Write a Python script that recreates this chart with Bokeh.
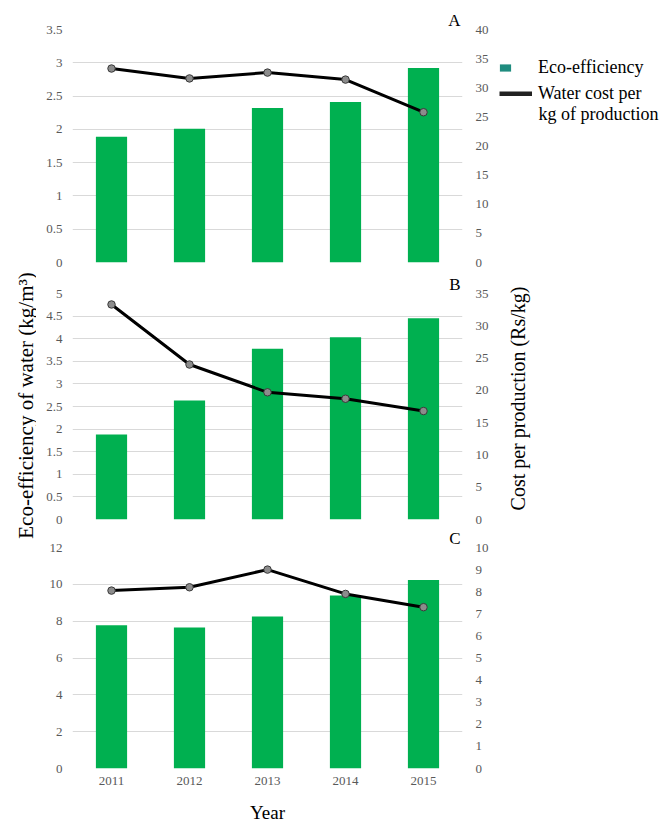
from bokeh.plotting import figure
from bokeh.models import (Range1d, LinearAxis, FixedTicker, NumeralTickFormatter,
                          Label, Legend, LegendItem, ColumnDataSource)
from bokeh.layouts import row, column
from bokeh.embed import file_html
from bokeh.resources import INLINE

# ---- data -------------------------------------------------------------
years = ["2011", "2012", "2013", "2014", "2015"]

# Panel A
eco_a = [1.89, 2.01, 2.32, 2.41, 2.92]
cost_a = [33.3, 31.6, 32.6, 31.4, 25.8]
ticks_a_left = [0, 0.5, 1, 1.5, 2, 2.5, 3, 3.5]
ticks_a_right = [0, 5, 10, 15, 20, 25, 30, 35, 40]

# Panel B
eco_b = [1.88, 2.63, 3.78, 4.03, 4.45]
cost_b = [33.3, 24.0, 19.7, 18.7, 16.8]
ticks_b_left = [0, 0.5, 1, 1.5, 2, 2.5, 3, 3.5, 4, 4.5, 5]
ticks_b_right = [0, 5, 10, 15, 20, 25, 30, 35]

# Panel C
eco_c = [7.78, 7.66, 8.26, 9.40, 10.23]
cost_c = [8.05, 8.2, 9.0, 7.9, 7.3]
ticks_c_left = [0, 2, 4, 6, 8, 10, 12]
ticks_c_right = [0, 1, 2, 3, 4, 5, 6, 7, 8, 9, 10]

# ---- styling ----------------------------------------------------------
SERIF = "Liberation Serif"
BAR_GREEN = "#00B050"
SWATCH_TEAL = "#1F8C7F"
TICK_GREY = "#595959"
GRID_GREY = "#D9D9D9"
W_TOTAL, H_TOTAL = 659, 825
W_LEFT, W_RIGHT = 36, 164
W_PANEL = W_TOTAL - W_LEFT - W_RIGHT
NAN = float("nan")


def style_axis(ax, standoff):
    ax.axis_line_color = None
    ax.major_tick_line_color = None
    ax.minor_tick_line_color = None
    ax.major_tick_out = 0
    ax.minor_tick_out = 0
    ax.major_label_standoff = standoff
    ax.major_label_text_font = SERIF
    ax.major_label_text_font_size = "13px"
    ax.major_label_text_color = TICK_GREY


def make_panel(eco, cost, lticks, rticks, letter, height, top, bottom, show_years):
    p = figure(x_range=years, y_range=Range1d(lticks[0], lticks[-1]),
               width=W_PANEL, height=height,
               min_border_left=36, min_border_right=33,
               min_border_top=top, min_border_bottom=bottom,
               toolbar_location=None, output_backend="svg")
    p.extra_y_ranges = {"cost": Range1d(rticks[0], rticks[-1])}
    p.outline_line_color = None
    p.background_fill_color = "white"
    p.border_fill_color = "white"

    # panel letter, right-aligned just above the plotting area
    p.title.text = letter
    p.title.align = "right"
    p.title.text_font = SERIF
    p.title.text_font_size = "17px"
    p.title.text_font_style = "normal"
    p.title.text_color = "black"
    p.title.standoff = 0
    p.title.offset = 2

    src = ColumnDataSource(dict(year=years, eco=eco, cost=cost))
    p.vbar(x="year", top="eco", width=0.4, fill_color=BAR_GREEN,
           line_color=None, source=src)
    p.line(x="year", y="cost", y_range_name="cost", line_color="black",
           line_width=3, line_join="round", source=src)
    p.scatter(x="year", y="cost", y_range_name="cost", size=7.5,
              fill_color="#8C8C8C", line_color="#3A3A3A", line_width=1, source=src)

    # left (eco-efficiency) axis and its gridlines
    left = p.yaxis[0]
    left.ticker = FixedTicker(ticks=lticks)
    left.formatter = NumeralTickFormatter(format="0.[0]")
    style_axis(left, 10)
    p.ygrid.ticker = FixedTicker(ticks=lticks)
    p.ygrid.grid_line_color = GRID_GREY
    p.ygrid.grid_line_width = 1
    p.xgrid.visible = False

    # right (cost) axis
    right = LinearAxis(y_range_name="cost", ticker=FixedTicker(ticks=rticks),
                       formatter=NumeralTickFormatter(format="0.[0]"))
    style_axis(right, 13)
    p.add_layout(right, "right")

    xa = p.xaxis[0]
    if show_years:
        style_axis(xa, 8)
        xa.axis_label = "Year"
        xa.axis_label_text_font = SERIF
        xa.axis_label_text_font_size = "19px"
        xa.axis_label_text_font_style = "normal"
        xa.axis_label_text_color = "black"
        xa.axis_label_standoff = 14
    else:
        xa.visible = False
    return p


pa = make_panel(eco_a, cost_a, ticks_a_left, ticks_a_right, "A", 270, 29, 8, False)
pb = make_panel(eco_b, cost_b, ticks_b_left, ticks_b_right, "B", 256, 23, 7, False)
pc = make_panel(eco_c, cost_c, ticks_c_left, ticks_c_right, "C", 299, 19, 55, True)

# ---- left strip: shared eco-efficiency title --------------------------
lp = figure(width=W_LEFT, height=H_TOTAL, x_range=Range1d(0, W_LEFT),
            y_range=Range1d(H_TOTAL, 0), min_border=0,
            x_axis_location=None, y_axis_location=None,
            toolbar_location=None, output_backend="svg")
lp.grid.visible = False
lp.outline_line_color = None
lp.add_layout(Label(x=25, y=405, text="Eco-efficiency of water (kg/m³)",
                    angle=90, angle_units="deg", text_align="center",
                    text_baseline="middle", text_font=SERIF,
                    text_font_size="21px", text_color="black"))

# ---- right strip: cost title and legend -------------------------------
rp = figure(width=W_RIGHT, height=H_TOTAL, x_range=Range1d(0, W_RIGHT),
            y_range=Range1d(H_TOTAL, 0), min_border=0,
            x_axis_location=None, y_axis_location=None,
            toolbar_location=None, output_backend="svg")
rp.grid.visible = False
rp.outline_line_color = None
rp.add_layout(Label(x=22, y=398, text="Cost per production (Rs/kg)",
                    angle=90, angle_units="deg", text_align="center",
                    text_baseline="middle", text_font=SERIF,
                    text_font_size="20px", text_color="black"))

# legend-only renderers (no visible data points)
swatch = rp.rect(x=[NAN], y=[NAN], width=1, height=1, fill_color=SWATCH_TEAL, line_color=None)
cost_key = rp.line(x=[NAN, NAN], y=[NAN, NAN], line_color="#222222", line_width=5)


def key_legend(item, loc, gw, gh, standoff):
    lg = Legend(items=[item], location=loc, orientation="vertical",
                glyph_width=gw, glyph_height=gh, label_standoff=standoff,
                padding=0, margin=0, spacing=0,
                label_text_font=SERIF, label_text_font_size="18px",
                label_text_color="black",
                background_fill_alpha=0, border_line_color=None)
    rp.add_layout(lg)
    return lg


key_legend(LegendItem(label="Eco-efficiency", renderers=[swatch]),
           (3, H_TOTAL - 78), 14, 9, 26)
key_legend(LegendItem(label="Water cost per", renderers=[cost_key]),
           (4, H_TOTAL - 104), 33, 5, 6)
# second line of the cost legend entry
rp.add_layout(Label(x=43, y=113, text="kg of production", text_align="left",
                    text_baseline="alphabetic", text_font=SERIF,
                    text_font_size="18px", text_color="black"))

layout = row(lp, column(pa, pb, pc), rp)

with open("out.html", "w") as f:
    f.write(file_html(layout, INLINE))
